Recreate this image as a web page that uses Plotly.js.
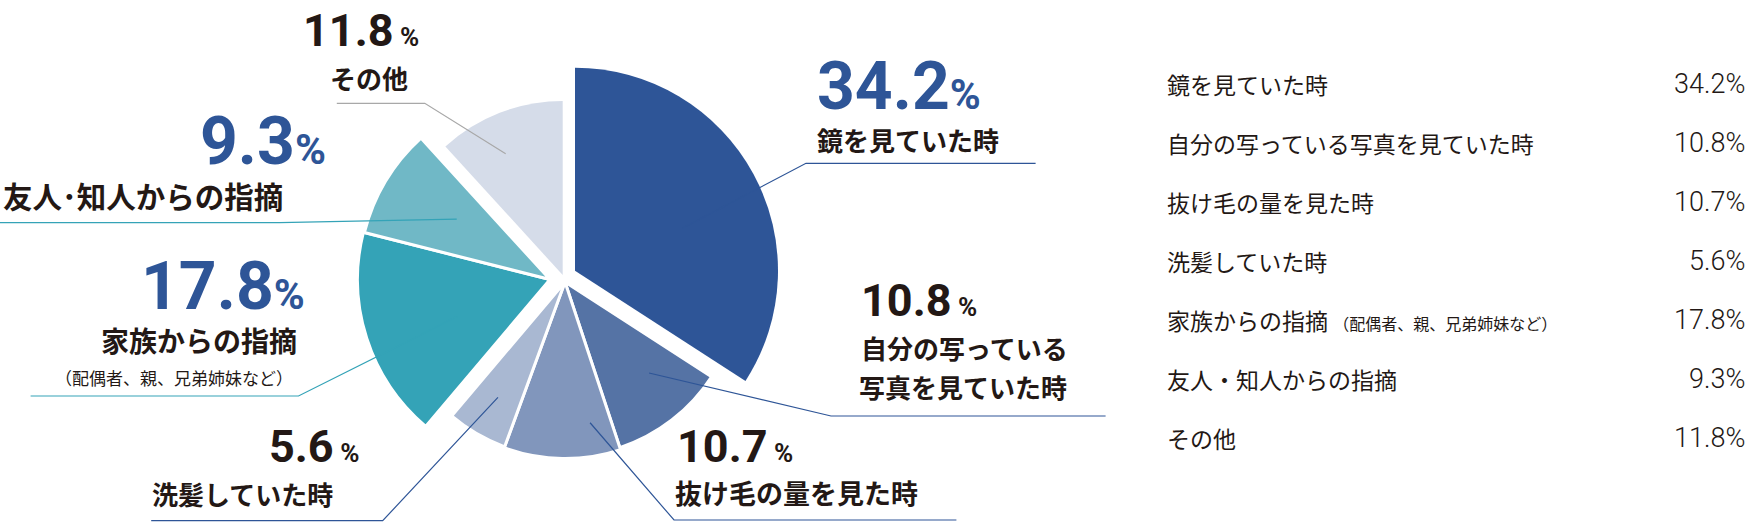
<!DOCTYPE html>
<html><head><meta charset="utf-8">
<script src="https://cdn.plot.ly/plotly-3.0.1.min.js"></script>
<style>html,body{margin:0;padding:0;background:#fff;} #chart{width:1748px;height:523px;}</style>
</head><body><div id="chart"></div>
<script>
// ---------- data ----------
const categories = ['鏡を見ていた時','自分の写っている写真を見ていた時','抜け毛の量を見た時','洗髪していた時','家族からの指摘','友人・知人からの指摘','その他'];
const values = [34.2, 10.8, 10.7, 5.6, 17.8, 9.3, 11.8];
const calloutLines = [['鏡を見ていた時'],['自分の写っている','写真を見ていた時'],['抜け毛の量を見た時'],['洗髪していた時'],['家族からの指摘'],['友人･知人からの指摘'],['その他']];
const notes = ['', '', '', '', '（配偶者、親、兄弟姉妹など）', '', ''];

// ---------- styles / layout ----------
const W = 1748, H = 523;
const sliceColors = ['#2e5597','#5573a5','#8196bc','#a9b8d2','#34a3b7','#70b8c6','#d5dce9'];
const sliceApex = [[575,270.7],[565,282],[565,282],[565,282],[550,279.5],[550,279.5],[562.7,275]];
const sliceRadius = [203,174.5,176.5,175.5,192.5,191.5,174];
const sliceStroke = [0,3,3,3,3,3,0];
const numBig = [true,false,false,false,true,true,false];
const numPos = [[815.5,86.5],[859.6,300],[676,446.7],[268,446],[139.7,286],[199,141],[302.3,30]];
const labelPos = [[[815.5,139]],[[859.6,347.5],[857.6,386.5]],[[674,492.5]],[[151,493]],[[99.5,340]],[[1.9,195]],[[329,77.5]]];
const labelSize = [26,26,27,26,28,29.5,26];
const notePos = [null,null,null,null,[53.6,377.5],null,null];
const leaderFrac = [0.57,0.71,0.81,0.76,0.52,0.58,0.77];
const leaderShift = [7,-5,-11,0,-4,2,-4];
const leaderElbow = [[806,163.3],[831,416],[674,520],[382.7,520.7],[298.5,396],[279.4,222.7],[424.8,103.3]];
const leaderEnd = [1035.6,1105.6,956.4,151.2,30.6,0,336.8];
const leaderColor = ['#2e5597','#2e5597','#2e5597','#2e5597','#34a3b7','#34a3b7','#a8a8a8'];
const blue = '#2e5597', ink = '#231815';
const tableX = 1166, tableValX = 1746, tableY0 = 84, tableDY = 59;

const px = x => x / W, py = y => 1 - y / H;

// ---------- pie slices (one trace per slice for individual radius / offset) ----------
const total = values.reduce((a,b)=>a+b,0);
let cum = 0;
const midAngles = values.map(v => { const m = (cum + v/2)/total*360; cum += v; return m; });

const traces = values.map((v,i) => {
  const [ax, ay] = sliceApex[i], R = sliceRadius[i];
  return {
    type: 'pie', values: values, labels: categories, sort: false,
    direction: 'clockwise', rotation: 0,
    domain: {x: [px(ax-R), px(ax+R)], y: [py(ay+R), py(ay-R)]},
    marker: {
      colors: values.map((_,j) => j === i ? sliceColors[i] : 'rgba(0,0,0,0)'),
      line: {color: '#ffffff', width: values.map((_,j) => j === i ? sliceStroke[i] : 0)}
    },
    textinfo: 'none', showlegend: false, name: categories[i],
    hovertemplate: '%{label}: %{value}%<extra></extra>'
  };
});

// ---------- leader lines ----------
const shapes = values.map((v,i) => {
  const [ax, ay] = sliceApex[i];
  const th = (midAngles[i] + leaderShift[i]) * Math.PI / 180;
  const r = leaderFrac[i] * sliceRadius[i];
  const x0 = ax + r*Math.sin(th), y0 = ay - r*Math.cos(th);
  const [ex, ey] = leaderElbow[i];
  return {
    type: 'path', xref: 'paper', yref: 'paper', layer: 'above',
    path: `M ${px(x0)} ${py(y0)} L ${px(ex)} ${py(ey)} L ${px(leaderEnd[i])} ${py(ey)}`,
    line: {color: leaderColor[i], width: 1.2}
  };
});

// ---------- annotations ----------
const annotations = [];
function ann(text, x, y, font, xanchor) {
  annotations.push({xref:'paper', yref:'paper', x: px(x), y: py(y), xanchor: xanchor || 'left',
    yanchor: 'middle', text: text, showarrow: false, font: font, borderpad: 0});
}
values.forEach((v,i) => {
  const big = numBig[i];
  const pct = big ? `<span style="font-size:42px">%</span>` : `<span style="font-size:26px"> %</span>`;
  ann(v.toFixed(1) + pct, numPos[i][0], numPos[i][1],
      {family: 'Roboto, sans-serif', size: big ? 66 : 45, color: big ? blue : ink, weight: 700});
  calloutLines[i].forEach((t,k) => {
    ann(t, labelPos[i][k][0], labelPos[i][k][1],
        {family: '"Noto Sans CJK JP", sans-serif', size: labelSize[i], color: ink, weight: 700});
  });
  if (notes[i] && notePos[i]) {
    ann(notes[i], notePos[i][0], notePos[i][1],
        {family: '"Noto Sans CJK JP", sans-serif', size: 17, color: ink, weight: 400});
  }
  // right-hand list
  const ty = tableY0 + tableDY * i;
  const lbl = categories[i] + (notes[i] ? ` <span style="font-size:16px">${notes[i]}</span>` : '');
  ann(lbl, tableX, ty, {family: '"Noto Sans CJK JP", sans-serif', size: 23, color: ink, weight: 400});
  ann(v.toFixed(1) + '%', tableValX, ty,
      {family: 'Roboto, sans-serif', size: 27, color: ink, weight: 300}, 'right');
});

const layout = {
  width: W, height: H, margin: {l:0, r:0, t:0, b:0},
  paper_bgcolor: '#ffffff', plot_bgcolor: '#ffffff',
  showlegend: false, shapes: shapes, annotations: annotations
};
Plotly.newPlot('chart', traces, layout, {displayModeBar: false, staticPlot: true});
</script>
</body></html>
